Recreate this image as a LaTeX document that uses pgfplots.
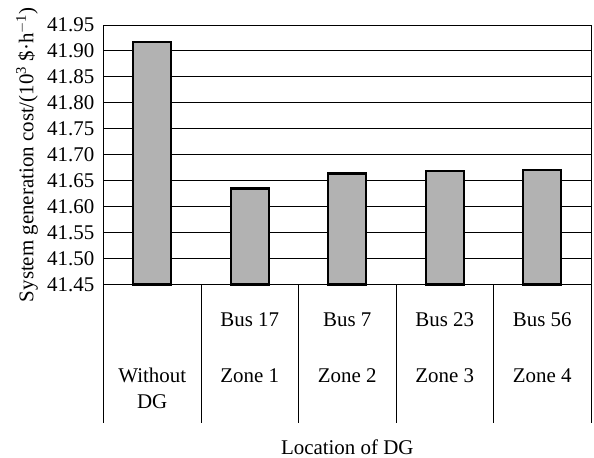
\documentclass[border=0pt]{standalone}
\usepackage{pgfplots}
\pgfplotsset{compat=1.18}
\usepackage{fontspec}
\setmainfont{Liberation Serif}
\begin{document}
\begin{tikzpicture}
\begin{axis}[
  name=ax,
  scale only axis,
  width=487.5bp, height=259.5bp,
  xmin=-0.5, xmax=4.5,
  ymin=41.45, ymax=41.95,
  ytick={41.45,41.50,...,41.96},
  ymajorgrids,
  grid style={black, line width=1pt},
  axis line style={black, line width=1pt},
  xtick={0,1,2,3,4},
  xticklabels={{\strut\\[29bp]\strut Without\\\strut DG},{\strut Bus 17\\[29bp]\strut Zone 1},{\strut Bus 7\\[29bp]\strut Zone 2},{\strut Bus 23\\[29bp]\strut Zone 3},{\strut Bus 56\\[29bp]\strut Zone 4}},
  xtick style={draw=none},
  ytick style={draw=none},
  xticklabel style={anchor=north, align=center, inner sep=0pt, yshift=-19.5bp, font=\fontsize{21}{26.5}\selectfont},
  yticklabel style={inner sep=0pt, xshift=-9bp, font=\fontsize{21}{25}\selectfont},
  /pgf/number format/assume math mode=true,
  y tick label style={/pgf/number format/.cd, fixed, fixed zerofill, precision=2},
  ylabel={System generation cost/(10\textsuperscript{3} \$·h\textsuperscript{$-$1})},
  ylabel style={at={(axis description cs:-0.157,0.5)}, anchor=center, font=\fontsize{21}{25}\selectfont},
  xlabel={Location of DG},
  xlabel style={at={(axis description cs:0.5,0)}, anchor=base, yshift=-169.5bp, font=\fontsize{21}{25}\selectfont},
  ybar, bar width=38bp,
  clip=false,
]
\addplot[fill=black!30, draw=black, line width=2.2pt, mark=none, ybar] coordinates {
  (0,41.917) (1,41.635) (2,41.664) (3,41.669) (4,41.671)
};
\end{axis}
\foreach \i in {0,...,5}{
  \draw[black, line width=1pt] ([xshift=\i*97.5bp]ax.south west) -- ++(0pt,-138.5bp);
}
\pgfresetboundingbox
\path[use as bounding box] (ax.south west) ++(-103.5bp,-173.5bp) rectangle ++(594bp,458bp);
\end{tikzpicture}
\end{document}
